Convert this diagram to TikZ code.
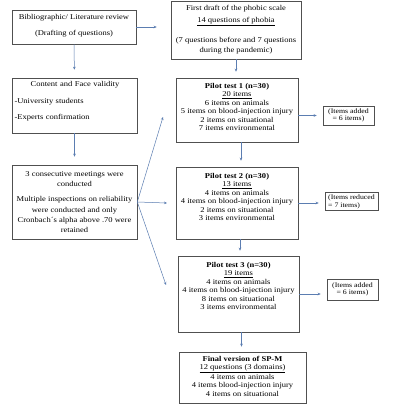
\documentclass[tikz,border=0pt]{standalone}
\usepackage{fontspec}
\setmainfont[FakeStretch=1.15]{Liberation Serif}
\usetikzlibrary{arrows.meta}
\definecolor{boxgray}{HTML}{505050}
\definecolor{arrblue}{HTML}{5B7DB1}
\begin{document}
\begin{tikzpicture}[x=1pt,y=-1pt,
  box/.style 2 args={draw=boxgray, line width=0.6pt, inner sep=0pt, minimum width=#1, minimum height=#2},
  txt/.style={inner sep=0pt, align=center, font=\fontsize{7.4}{8.4}\selectfont},
  itxt/.style={txt, font=\fontsize{6.8}{7.4}\selectfont},
  arr/.style={draw=arrblue, line width=0.5pt, -{Stealth[length=3pt,width=2.6pt]}}]
\useasboundingbox[fill=white] (0,0) rectangle (400,405);
% boxes
\node[box={124pt}{34pt}] (b1) at (74,27) {};
\node[box={130pt}{58pt}] (b2) at (236,30) {};
\node[box={125pt}{55pt}] (b3) at (74.5,105.5) {};
\node[box={125pt}{74pt}] (b4) at (74.5,202) {};
\node[box={122pt}{64pt}] (p1) at (237,110) {};
\node[box={51pt}{19pt}] (i1) at (348.5,115.5) {};
\node[box={122pt}{72pt}] (p2) at (237,203) {};
\node[box={53pt}{18pt}] (i2) at (351.5,201) {};
\node[box={121pt}{76pt}] (p3) at (238.5,294) {};
\node[box={51pt}{21pt}] (i3) at (352.5,289.5) {};
\node[box={127pt}{51pt}] (f) at (242.5,377.5) {};
% texts
\node[txt] (t1) at (74,26) {Bibliographic/ Literature review\\[7.6pt](Drafting of questions)};
\node[txt, font=\fontsize{7.4}{10}\selectfont] (t2) at (236,29.5) {First draft of the phobic scale\\[2pt]\underline{14 questions of phobia}\\[10pt](7 questions before and 7 questions\\during the pandemic)};
\node[txt, align=left, text width=121pt] (t3) at (75,101.5) {\makebox[121pt]{Content and Face validity}\\[8pt]-University students\\[8pt]-Experts confirmation};
\node[txt, font=\fontsize{7.4}{10.2}\selectfont] (t4) at (74.5,202) {3 consecutive meetings were\\conducted\\[5pt]Multiple inspections on reliability\\were conducted and only\\Cronbach´s alpha above .70 were\\retained};
\node[txt] (tp1) at (237,107) {\textbf{Pilot test 1 (n=30)}\\\underline{20 items}\\6 items on animals\\5 items on blood-injection injury\\2 items on situational\\7 items environmental};
\node[txt] (tp2) at (237,197) {\textbf{Pilot test 2 (n=30)}\\\underline{13 items}\\4 items on animals\\4 items on blood-injection injury\\2 items on situational\\3 items environmental};
\node[txt] (tp3) at (238.5,286) {\textbf{Pilot test 3 (n=30)}\\\underline{19 items}\\4 items on animals\\4 items on blood-injection injury\\8 items on situational\\3 items environmental};
\node[txt] (tf) at (242.5,376) {\textbf{Final version of SP-M}\\\underline{12 questions (3 domains)}\\4 items on animals\\4 items blood-injection injury\\4 items on situational};
\node[itxt] (ti1) at (348.5,115.5) {(Items added\\= 6 items)};
\node[itxt, align=left] (ti2) at (351.5,202) {(Items reduced\\= 7 items)};
\node[itxt] (ti3) at (352.5,289.5) {(Items added\\= 6 items)};
% connector ends
\coordinate (e1) at (163,117);
\coordinate (e2) at (167,203);
\coordinate (e3) at (166,285);
% arrows
\draw[arr, shorten >=14pt] (b1.east) -- (b1.east -| b2.west);
\draw[arr, shorten >=8pt] (b1.south) -- (b3.north);
\draw[arr, shorten >=6pt] (b2.south) -- (b2.south |- p1.north);
\draw[arr, shorten >=8pt] (b3.south) -- (b4.north);
\draw[arr] (b4.east) -- (e1);
\draw[arr] (b4.east) -- (e2);
\draw[arr] (b4.east) -- (e3);
\draw[arr, shorten >=6pt] (i1.west -| p1.east) -- (i1.west);
\draw[arr, shorten >=6pt] (p2.east) -- (p2.east -| i2.west);
\draw[arr, shorten >=6pt] (p3.east) -- (p3.east -| i3.west);
\draw[arr, shorten >=6pt] ([xshift=4pt]p1.south) -- ([xshift=4pt]p1.south |- p2.north);
\draw[arr, shorten >=5pt] ([xshift=3pt]p2.south) -- ([xshift=3pt]p2.south |- p3.north);
\draw[arr, shorten >=5pt] ([xshift=3pt]p3.south) -- ([xshift=3pt]p3.south |- f.north);
\end{tikzpicture}
\end{document}
